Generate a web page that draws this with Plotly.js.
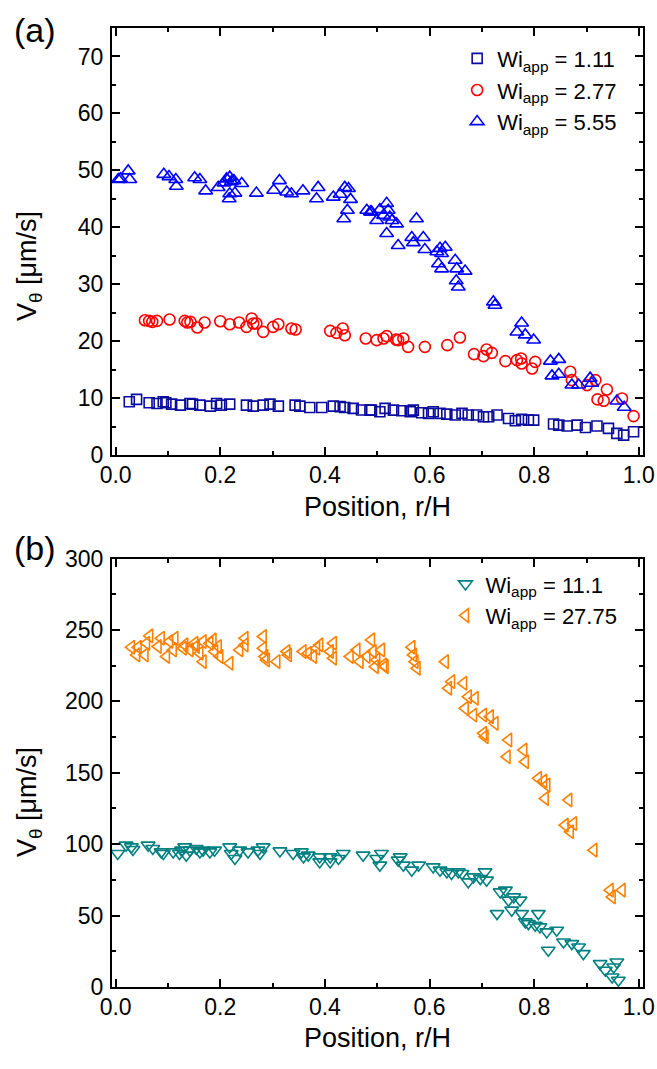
<!DOCTYPE html>
<html>
<head>
<meta charset="utf-8">
<script src="https://cdn.plot.ly/plotly-3.0.1.min.js"></script>
<style>html,body{margin:0;padding:0;background:#fff;}#chart{width:657px;height:1069px;}</style>
</head>
<body>
<div id="chart"></div>
<script>
// ---------- Panel (a) ----------
const a_wi111_x = [0.026,0.040,0.064,0.079,0.091,0.096,0.107,0.124,0.142,0.147,0.161,0.181,0.193,0.202,0.218,0.250,0.263,0.282,0.295,0.311,0.343,0.352,0.371,0.394,0.416,0.429,0.438,0.454,0.470,0.486,0.505,0.489,0.515,0.531,0.547,0.563,0.569,0.585,0.598,0.607,0.620,0.633,0.649,0.662,0.674,0.690,0.703,0.713,0.729,0.751,0.764,0.776,0.789,0.799,0.837,0.847,0.863,0.882,0.898,0.920,0.942,0.958,0.971,0.990];
const a_wi111_y = [9.35,9.77,9.18,9.06,9.35,9.18,8.95,8.77,9.06,8.95,8.77,8.6,9.06,8.77,8.95,8.77,8.6,8.77,8.95,8.6,8.77,8.6,8.36,8.36,8.6,8.5,8.36,8.19,7.9,7.9,7.6,7.89,8.19,7.89,7.78,7.6,7.89,7.43,7.31,7.6,7.31,7.19,7.02,7.31,7.02,7.02,6.73,6.73,7.02,6.43,6.02,6.26,6.14,6.14,5.44,5.26,5.09,5.26,4.85,5.09,4.68,3.8,3.5,4.09];

const a_wi277_x = [0.056,0.064,0.070,0.079,0.103,0.132,0.137,0.143,0.156,0.170,0.200,0.218,0.236,0.250,0.260,0.263,0.269,0.282,0.301,0.311,0.336,0.344,0.410,0.422,0.434,0.438,0.478,0.499,0.512,0.518,0.536,0.540,0.550,0.559,0.591,0.634,0.658,0.685,0.703,0.709,0.719,0.745,0.767,0.775,0.776,0.796,0.802,0.869,0.872,0.901,0.917,0.921,0.933,0.939,0.968,0.990];
const a_wi277_y = [23.68,23.57,23.39,23.57,23.8,23.57,23.28,23.39,22.4,23.28,23.51,22.98,23.28,22.51,23.98,23.1,23.1,21.64,22.51,22.98,22.22,22.05,21.81,21.46,22.22,21.05,20.47,20.18,20.47,20.88,20.29,20.18,20.47,19.0,19.0,19.3,20.64,17.72,17.37,18.54,17.95,16.49,16.67,16.96,16.08,15.2,16.37,14.62,13.16,12.28,13.16,9.77,9.53,11.52,9.94,6.84];

const a_wi555_x = [0.005,0.009,0.024,0.027,0.092,0.102,0.115,0.116,0.151,0.161,0.172,0.196,0.207,0.212,0.218,0.221,0.218,0.217,0.226,0.228,0.241,0.269,0.302,0.313,0.327,0.336,0.358,0.387,0.384,0.416,0.429,0.438,0.445,0.449,0.443,0.436,0.480,0.487,0.499,0.489,0.505,0.512,0.518,0.521,0.524,0.528,0.537,0.518,0.540,0.575,0.566,0.569,0.588,0.591,0.614,0.620,0.623,0.630,0.617,0.623,0.649,0.652,0.668,0.651,0.655,0.722,0.725,0.776,0.767,0.783,0.799,0.831,0.847,0.834,0.847,0.872,0.885,0.907,0.910,0.958,0.972];
const a_wi555_y = [48.4,48.5,49.9,48.4,49.3,48.9,48.4,47.2,48.7,48.4,46.4,47.0,47.8,48.5,48.8,48.0,45.9,45.0,48.2,46.0,47.7,46.0,46.5,48.2,46.2,45.9,46.4,47.0,45.0,45.3,45.8,47.0,46.8,44.9,43.0,41.5,43.0,42.7,41.2,42.7,43.1,42.1,44.2,43.0,41.8,41.2,40.6,38.9,36.8,41.5,38.2,37.3,38.2,36.1,35.7,36.3,35.4,36.5,33.6,32.7,34.2,32.7,32.3,30.6,29.5,26.9,26.3,23.2,21.6,21.1,20.2,16.5,16.8,13.9,14.2,12.3,12.3,13.5,12.6,9.5,8.4];

// ---------- Panel (b) ----------
const b_wi111_x = [0.004,0.020,0.030,0.033,0.062,0.071,0.087,0.091,0.110,0.122,0.126,0.132,0.135,0.142,0.154,0.161,0.167,0.180,0.189,0.218,0.221,0.228,0.237,0.253,0.272,0.276,0.282,0.314,0.339,0.355,0.359,0.368,0.390,0.390,0.410,0.410,0.426,0.435,0.473,0.499,0.508,0.505,0.540,0.544,0.550,0.566,0.579,0.607,0.620,0.633,0.642,0.655,0.662,0.674,0.684,0.697,0.706,0.709,0.729,0.735,0.745,0.751,0.761,0.757,0.773,0.776,0.783,0.789,0.802,0.808,0.811,0.827,0.824,0.843,0.856,0.872,0.885,0.894,0.926,0.936,0.952,0.958,0.949,0.961];
const b_wi111_y = [93.5,99.3,98.1,96.3,99.3,97.0,94.6,93.5,94.6,93.5,95.8,98.1,92.3,95.8,97.0,94.6,95.8,94.6,95.8,98.1,93.5,90.0,95.8,94.6,95.8,93.5,98.1,95.3,93.5,94.6,91.1,92.3,91.1,87.6,91.1,87.6,90.0,93.5,92.3,90.0,93.5,85.3,88.8,91.1,85.3,81.8,85.3,84.1,81.8,80.6,79.5,80.6,79.5,73.6,77.1,75.9,80.6,74.8,51.4,66.6,67.8,60.8,63.1,53.8,60.8,51.4,45.6,44.4,43.2,51.4,42.1,25.7,38.6,39.7,31.5,30.4,28.0,23.4,16.4,11.7,14.0,17.5,7.0,4.7];

const b_wi2775_x = [0.030,0.043,0.040,0.056,0.065,0.059,0.087,0.081,0.097,0.103,0.110,0.113,0.129,0.132,0.142,0.151,0.154,0.161,0.167,0.167,0.180,0.186,0.189,0.196,0.199,0.218,0.237,0.247,0.247,0.282,0.282,0.285,0.288,0.308,0.327,0.330,0.358,0.368,0.378,0.384,0.390,0.410,0.416,0.416,0.448,0.461,0.467,0.480,0.489,0.492,0.496,0.499,0.512,0.508,0.515,0.566,0.569,0.572,0.576,0.630,0.642,0.636,0.665,0.674,0.687,0.668,0.684,0.703,0.716,0.725,0.703,0.706,0.751,0.748,0.780,0.783,0.808,0.818,0.824,0.821,0.866,0.859,0.875,0.869,0.914,0.945,0.949,0.968];
const b_wi2775_y = [237.9,237.9,232.5,232.5,245.8,240.7,244.2,238.4,231.4,241.9,236.0,244.2,237.2,239.5,236.0,240.7,238.4,233.7,241.9,227.8,240.7,243.0,234.9,238.4,231.4,226.7,236.0,244.2,239.5,245.4,237.2,231.4,229.0,227.8,234.9,232.5,234.9,233.7,231.4,237.2,239.5,234.9,240.7,230.2,231.4,236.0,227.8,231.4,243.0,234.9,224.3,229.0,225.5,236.0,224.3,237.9,232.5,227.8,223.2,227.8,213.8,209.2,212.7,203.3,202.2,195.1,190.4,190.4,189.3,184.6,177.6,175.3,172.9,161.2,165.9,157.7,146.1,144.2,141.4,132.0,130.9,113.3,114.5,108.7,95.8,67.8,63.1,67.8];

const xTicks = [0, 0.2, 0.4, 0.6, 0.8, 1.0];
const legA = ['Wi<sub>app</sub> = 1.11', 'Wi<sub>app</sub> = 2.77', 'Wi<sub>app</sub> = 5.55'];
const legB = ['Wi<sub>app</sub> = 11.1', 'Wi<sub>app</sub> = 27.75'];
const xTitle = 'Position, r/H';
const yTitle = 'V<sub>θ</sub> [μm/s]';

const FONT = 'Liberation Sans, Arial, Helvetica, sans-serif';

function mk(x, y, name, symbol, color, size, xa, ya, leg) {
  return {
    x: x, y: y, name: name, type: 'scatter', mode: 'markers',
    xaxis: xa, yaxis: ya, legend: leg,
    marker: {symbol: symbol, size: size, color: color, line: {color: color, width: 1.6}}
  };
}

const traces = [
  mk(a_wi111_x, a_wi111_y, legA[0], 'square-open', '#0b0b9e', 10, 'x', 'y', 'legend'),
  mk(a_wi277_x, a_wi277_y, legA[1], 'circle-open', '#ff0000', 11, 'x', 'y', 'legend'),
  mk(a_wi555_x, a_wi555_y, legA[2], 'triangle-up-open', '#0000ff', 12, 'x', 'y', 'legend'),
  mk(b_wi111_x, b_wi111_y, legB[0], 'triangle-down-open', '#008080', 12, 'x2', 'y2', 'legend2'),
  mk(b_wi2775_x, b_wi2775_y, legB[1], 'triangle-left-open', '#ff8000', 12, 'x2', 'y2', 'legend2')
];

function xax(anchor) {
  return {
    anchor: anchor, domain: [0, 1], range: [-0.007, 1.008],
    tickvals: xTicks, ticktext: xTicks.map(v => v.toFixed(1)),
    ticks: 'inside', ticklen: 8, tickwidth: 2, tickcolor: '#000',
    minor: {ticks: 'inside', ticklen: 4, tickwidth: 2, tickcolor: '#000', dtick: 0.1, tick0: 0},
    showline: true, linewidth: 2, linecolor: '#000', mirror: 'allticks',
    showgrid: false, zeroline: false, ticklabelstandoff: -2,
    tickfont: {family: FONT, size: 23, color: '#000'},
    title: {text: xTitle, font: {family: FONT, size: 27, color: '#000'}, standoff: 10}
  };
}
function yax(anchor, dom, range, dtick, minorD) {
  return {
    anchor: anchor, domain: dom, range: range, dtick: dtick, tick0: 0,
    ticks: 'inside', ticklen: 8, tickwidth: 2, tickcolor: '#000',
    minor: {ticks: 'inside', ticklen: 4, tickwidth: 2, tickcolor: '#000', dtick: minorD, tick0: 0},
    showline: true, linewidth: 2, linecolor: '#000', mirror: 'allticks',
    showgrid: false, zeroline: false, ticklabelstandoff: 2,
    tickfont: {family: FONT, size: 23, color: '#000'}
  };
}

const ann = (text, x, y, size, angle) => ({
  text: text, xref: 'paper', yref: 'paper', x: x, y: y, xanchor: 'center', yanchor: 'middle',
  showarrow: false, textangle: angle || 0, font: {family: FONT, size: size, color: '#000'}
});
// helpers to convert pixel positions of annotation anchors into paper coords
const L = 112, R = 14, T = 28, B = 82, W = 657, H = 1069;
const px = v => (v - L) / (W - L - R);
const py = v => (H - B - v) / (H - T - B);

const layout = {
  width: W, height: H,
  margin: {l: L, r: R, t: T, b: B},
  paper_bgcolor: '#fff', plot_bgcolor: '#fff',
  font: {family: FONT, color: '#000'},
  xaxis: xax('y'),
  yaxis: yax('x', [0.5547, 1], [0, 75], 10, 5),
  xaxis2: xax('y2'),
  yaxis2: yax('x2', [0, 0.4468], [0, 300], 50, 25),
  showlegend: true,
  legend: {x: 0.65, y: 0.99, xanchor: 'left', yanchor: 'top', bgcolor: 'rgba(0,0,0,0)',
           font: {family: FONT, size: 22, color: '#000'}},
  legend2: {x: 0.628, y: 0.442, xanchor: 'left', yanchor: 'top', bgcolor: 'rgba(0,0,0,0)',
            font: {family: FONT, size: 22, color: '#000'}},
  annotations: [
    ann('(a)', px(35), py(30), 34),
    ann('(b)', px(35), py(548), 34),
    ann(yTitle, px(29), py(266), 27, -90),
    ann(yTitle, px(29), py(802), 27, -90)
  ]
};

Plotly.newPlot('chart', traces, layout, {displayModeBar: false, staticPlot: true});
</script>
</body>
</html>
